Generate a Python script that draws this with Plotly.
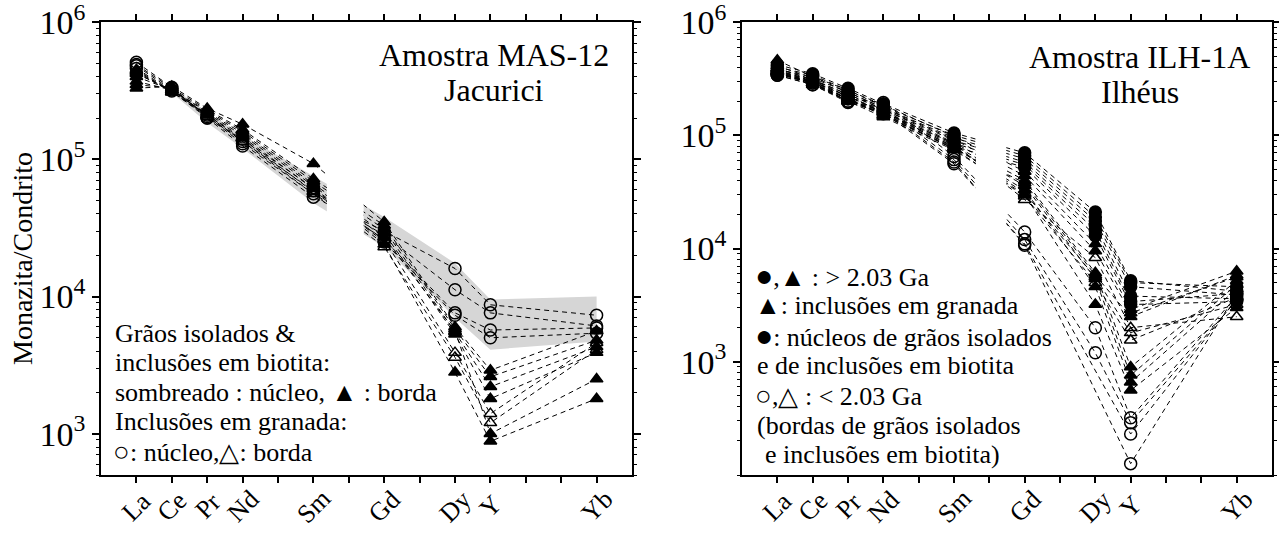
import math
import plotly.graph_objects as go

# ---------------- data ----------------
elements = ["La", "Ce", "Pr", "Nd", "Sm", "Gd", "Dy", "Y", "Yb"]
positions = [1, 2, 3, 4, 6, 8, 10, 11, 14]   # REE order positions on the x axis

# Left panel: Amostra MAS-12 (Jacurici)
mas_circles = [
    [5.1e5, 3.35e5, 2.0e5, 1.25e5, 5.3e4, 3.0e4, 1.6e4, 8.7e3, 7.3e3],
    [4.9e5, 3.3e5, 2.05e5, 1.3e5, 5.6e4, 2.8e4, 1.12e4, 7.6e3, 6.1e3],
    [4.8e5, 3.2e5, 2.1e5, 1.35e5, 5.9e4, 2.6e4, 7.6e3, 5.7e3, 5.9e3],
    [4.6e5, 3.15e5, 2.0e5, 1.4e5, 6.2e4, 2.5e4, 7.3e3, 5.0e3, 5.4e3],
]
mas_open_tri = [
    [4.2e5, 3.2e5, 2.1e5, 1.4e5, 5.8e4, 2.6e4, 3.9e3, 1.4e3, 4.6e3],
    [4.4e5, 3.1e5, 2.05e5, 1.35e5, 5.6e4, 2.3e4, 3.6e3, 1.2e3, 4.1e3],
]
mas_filled_tri = [
    [3.3e5, 3.4e5, 2.35e5, 1.8e5, 9.3e4, 3.5e4, 6.0e3, 2.9e3, 5.6e3],
    [3.5e5, 3.3e5, 2.3e5, 1.65e5, 7.2e4, 3.3e4, 5.8e3, 2.6e3, 4.8e3],
    [3.7e5, 3.2e5, 2.25e5, 1.6e5, 6.9e4, 3.1e4, 5.5e3, 2.2e3, 4.3e3],
    [4.0e5, 3.2e5, 2.2e5, 1.55e5, 6.6e4, 2.9e4, 5.3e3, 1.8e3, 3.9e3],
    [4.3e5, 3.1e5, 2.15e5, 1.5e5, 6.4e4, 2.7e4, 5.6e3, 1.0e3, 2.5e3],
    [4.5e5, 3.1e5, 2.1e5, 1.45e5, 6.1e4, 2.4e4, 2.8e3, 8.8e2, 1.8e3],
]
# shaded field (cores of isolated grains / biotite inclusions), Ce..Yb
mas_band_elements = ["Ce", "Pr", "Nd", "Sm", "Gd", "Dy", "Y", "Yb"]
mas_band_upper = [3.35e5, 2.2e5, 1.5e5, 7.5e4, 3.8e4, 1.75e4, 9.5e3, 1.0e4]
mas_band_lower = [3.05e5, 1.85e5, 1.2e5, 4.8e4, 2.3e4, 7.0e3, 4.1e3, 4.7e3]

# Right panel: Amostra ILH-1A (Ilhéus)
ilh_filled_circ = [
    [4.2e5, 3.5e5, 2.6e5, 1.9e5, 1.05e5, 7.0e4, 2.1e4, 5.2e3, 4.2e3],
    [4.0e5, 3.4e5, 2.5e5, 1.8e5, 1.0e5, 6.6e4, 1.9e4, 5.0e3, 4.6e3],
    [3.8e5, 3.3e5, 2.4e5, 1.75e5, 9.5e4, 6.2e4, 1.75e4, 4.6e3, 3.9e3],
    [3.7e5, 3.1e5, 2.3e5, 1.7e5, 9.0e4, 5.8e4, 1.6e4, 3.8e3, 3.6e3],
    [3.5e5, 3.0e5, 2.2e5, 1.6e5, 8.5e4, 5.5e4, 1.45e4, 3.4e3, 4.0e3],
    [3.6e5, 3.0e5, 2.1e5, 1.55e5, 8.0e4, 5.2e4, 1.3e4, 3.2e3, 3.4e3],
]
ilh_filled_tri = [
    [4.6e5, 3.3e5, 2.5e5, 1.85e5, 9.8e4, 4.8e4, 1.1e4, 2.9e3, 6.3e3],
    [4.1e5, 3.2e5, 2.4e5, 1.75e5, 9.2e4, 4.4e4, 9.5e3, 2.7e3, 5.6e3],
    [3.9e5, 3.1e5, 2.3e5, 1.7e5, 8.6e4, 4.0e4, 6.1e3, 9.0e2, 5.2e3],
    [3.8e5, 3.0e5, 2.2e5, 1.6e5, 8.2e4, 3.6e4, 5.4e3, 7.6e2, 4.8e3],
    [3.7e5, 2.9e5, 2.1e5, 1.5e5, 7.8e4, 3.3e4, 4.6e3, 6.6e2, 4.4e3],
    [3.5e5, 2.9e5, 2.0e5, 1.45e5, 7.4e4, 3.0e4, 3.2e3, 5.6e2, 3.0e3],
    [3.6e5, 2.8e5, 2.1e5, 1.5e5, 7.6e4, 3.8e4, 5.8e3, 2.5e3, 5.8e3],
]
ilh_open_tri = [
    [3.9e5, 3.1e5, 2.2e5, 1.65e5, 8.4e4, 2.7e4, 8.3e3, 2.0e3, 2.5e3],
    [3.7e5, 3.0e5, 2.1e5, 1.6e5, 7.9e4, 3.1e4, 5.6e3, 1.8e3, 3.2e3],
    [3.6e5, 2.9e5, 2.0e5, 1.55e5, 7.6e4, 2.9e4, 5.0e3, 1.55e3, 3.7e3],
]
ilh_open_circ = [
    [3.5e5, 2.9e5, 2.1e5, 1.95e5, 6.5e4, 1.4e4, 2.0e3, 3.2e2, 3.8e3],
    [3.4e5, 2.8e5, 2.0e5, 1.75e5, 6.1e4, 1.2e4, 1.2e3, 2.9e2, 3.5e3],
    [3.5e5, 2.9e5, 2.0e5, 1.65e5, 5.8e4, 1.07e4, None, 1.26e2, 4.0e3],
    [3.4e5, 2.8e5, 1.95e5, 1.6e5, 5.6e4, 1.1e4, None, 2.3e2, 3.6e3],
]

ytick_vals = [1e3, 1e4, 1e5, 1e6]
ytick_text = ["10<sup>3</sup>", "10<sup>4</sup>", "10<sup>5</sup>", "10<sup>6</sup>"]

# ---------------- figure ----------------
W, H = 1279, 534
SERIF = "Liberation Serif"
pos_of = dict(zip(elements, positions))

fig = go.Figure()


def px_x(p):
    return p / W


def px_y(p):
    return (H - p) / H


def add_band(xa, ya, names, upper, lower):
    bx = [pos_of[n] for n in names]
    fig.add_trace(go.Scatter(
        x=bx + bx[::-1], y=upper + lower[::-1], xaxis=xa, yaxis=ya,
        mode="lines", fill="toself", fillcolor="#d6d6d6",
        line=dict(width=0, color="#d6d6d6"), hoverinfo="skip", showlegend=False))


def add_series(xa, ya, values, symbol, size):
    xs = [p for p, v in zip(positions, values) if v is not None]
    ys = [v for v in values if v is not None]
    fig.add_trace(go.Scatter(
        x=xs, y=ys, xaxis=xa, yaxis=ya, mode="lines+markers",
        line=dict(color="black", width=1, dash="5px,4px"),
        marker=dict(symbol=symbol, size=size, color="black",
                    line=dict(color="black", width=1.5)),
        hoverinfo="skip", showlegend=False))


add_band("x", "y", mas_band_elements, mas_band_upper, mas_band_lower)
for s in mas_circles:
    add_series("x", "y", s, "circle-open", 12)
for s in mas_open_tri:
    add_series("x", "y", s, "triangle-up-open", 11)
for s in mas_filled_tri:
    add_series("x", "y", s, "triangle-up", 11)

for s in ilh_open_circ:
    add_series("x2", "y2", s, "circle-open", 12)
for s in ilh_open_tri:
    add_series("x2", "y2", s, "triangle-up-open", 11)
for s in ilh_filled_tri:
    add_series("x2", "y2", s, "triangle-up", 11)
for s in ilh_filled_circ:
    add_series("x2", "y2", s, "circle", 12)

ydom = [px_y(475), px_y(22)]
xdom1 = [px_x(101), px_x(632)]
xdom2 = [px_x(742), px_x(1272)]

xcommon = dict(range=[0, 15], tickmode="array", tickvals=list(range(1, 15)),
               showticklabels=False, ticks="outside", ticklen=6, tickwidth=1.5,
               tickcolor="black", showline=True, linewidth=1.5, linecolor="black",
               mirror="allticks", showgrid=False, zeroline=False, fixedrange=True,
               automargin=False)
ycommon = dict(type="log", tickmode="array", tickvals=ytick_vals, ticktext=ytick_text,
               ticks="outside", ticklen=7, tickwidth=1.5, tickcolor="black",
               showline=True, linewidth=1.5, linecolor="black", mirror="allticks",
               showgrid=False, zeroline=False, ticklabeloverflow="allow",
               automargin=False,
               tickfont=dict(family=SERIF, size=34, color="black"),
               minor=dict(ticks="outside", ticklen=3, tickwidth=1, tickcolor="black",
                          dtick="D1", showgrid=False))

fig.update_layout(
    width=W, height=H, autosize=False,
    margin=dict(l=0, r=0, t=0, b=0),
    paper_bgcolor="white", plot_bgcolor="white",
    font=dict(family=SERIF, color="black"),
    xaxis=dict(domain=xdom1, anchor="y", **xcommon),
    yaxis=dict(domain=ydom, anchor="x", range=[math.log10(500), 6.0008], **ycommon),
    xaxis2=dict(domain=xdom2, anchor="y2", **xcommon),
    yaxis2=dict(domain=ydom, anchor="x2", range=[2, 6.0008], **ycommon),
)

# gaps in the patterns between Sm and Gd (Eu not analysed)
for xr, yr, g0, g1 in [("x", "y", 6.38, 7.42), ("x2", "y2", 6.62, 7.48)]:
    fig.add_shape(type="rect", xref=xr, yref=yr + " domain", x0=g0, x1=g1,
                  y0=0.005, y1=0.995, fillcolor="white", line=dict(width=0),
                  layer="above")

ann = []


def text(x, y, s, size, xanchor="left", xref="paper", angle=0):
    ann.append(dict(x=x, y=y, xref=xref, yref="paper", text=s, showarrow=False,
                    xanchor=xanchor, yanchor="middle", textangle=angle,
                    font=dict(family=SERIF, size=size, color="black")))


def big(sym, size):
    return "<span style='font-size:%dpx'>%s</span>" % (size, sym)


FC = big("●", 30)   # filled circle symbol in the keys
OC = big("○", 28)   # open circle symbol in the keys

# element labels
for xr in ["x", "x2"]:
    for n, p in zip(elements, positions):
        text(p, px_y(506), n, 26, xanchor="center", xref=xr, angle=-45)

# y axis title
text(px_x(22), px_y(259), "Monazita/Condrito", 28, xanchor="center", angle=-90)

# titles
text(px_x(494), px_y(55), "Amostra MAS-12", 32, xanchor="center")
text(px_x(494), px_y(90), "Jacurici", 32, xanchor="center")
text(px_x(1139), px_y(57), "Amostra ILH-1A", 32, xanchor="center")
text(px_x(1140), px_y(92), "Ilhéus", 32, xanchor="center")

# left legend
left_lines = [
    (113, 333, "Grãos isolados &"),
    (113, 362.5, "inclusões em biotita:"),
    (113, 392, "sombreado : núcleo, ▲ : borda"),
    (113, 421.5, "Inclusões em granada:"),
    (111, 451, OC + ": núcleo,△: borda"),
]
for x, y, s in left_lines:
    text(px_x(x), px_y(y), s, 26)

right_lines = [
    (753, 276, FC + ",▲ : > 2.03 Ga"),
    (753, 305.5, "▲: inclusões em granada"),
    (753, 335.5, FC + ": núcleos de grãos isolados"),
    (755, 365.5, "e de inclusões em biotita"),
    (753, 395.5, OC + ",△ : < 2.03 Ga"),
    (755, 425, "(bordas de grãos isolados"),
    (763, 454.5, "e inclusões em biotita)"),
]
for x, y, s in right_lines:
    text(px_x(x), px_y(y), s, 26)

fig.update_layout(annotations=ann)
fig.write_html("out.html")
